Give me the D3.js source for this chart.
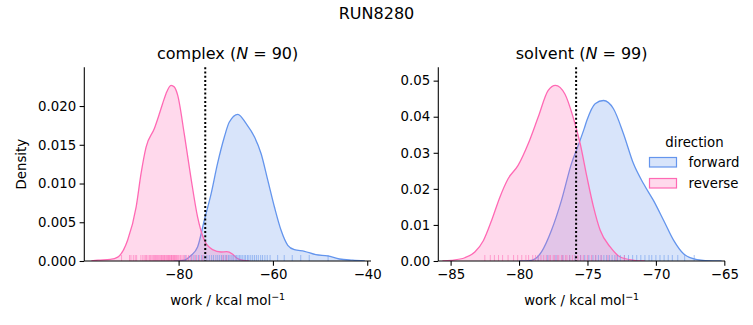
<!DOCTYPE html>
<html>
<head>
<meta charset="utf-8">
<script src="https://cdn.jsdelivr.net/npm/d3@7"></script>
<style>
  html, body { margin: 0; padding: 0; background: #fff; }
  svg { display: block; font-family: "DejaVu Sans", sans-serif; }
</style>
</head>
<body>
<svg id="chart" width="753" height="325"></svg>
<script>
// ---------------- DATA ----------------
const suptitle = "RUN8280";
const directions = ["forward", "reverse"];
const colors = { forward: "#6495ED", reverse: "#FF69B4" };

// complex panel: KDE curves
const complexForwardX = [-81, -78.8, -77.4, -75.98, -74.56, -73.1, -71.75, -70.3, -69.27, -67.43, -65.67, -63.9, -62.5, -61.08, -59.68, -58.27, -56.85, -55.45, -53.3, -50.9, -48.4, -45.9, -43.1, -40.5];
const complexForwardY = [0, 0.0001, 0.0007, 0.0018, 0.00525, 0.0087, 0.01256, 0.016, 0.0179, 0.01893, 0.01772, 0.016, 0.01385, 0.0104, 0.00697, 0.00396, 0.00203, 0.00146, 0.00125, 0.00081, 0.00065, 0.00026, 0.0001, 0];
const complexReverseX = [-98.5, -97.1, -94.5, -92.9, -90.8, -89.0, -87.96, -86.9, -85.14, -84.08, -83.4, -82.67, -81.6, -80.9, -80.2, -78.8, -77.4, -75.98, -74.56, -72.8, -71.0, -69.8, -68.6, -67.6, -66.5, -65.0];
const complexReverseY = [0, 0.0001, 0.0002, 0.0005, 0.0027, 0.0070, 0.0113, 0.0147, 0.0171, 0.019, 0.0203, 0.0216, 0.02267, 0.02245, 0.0214, 0.0164, 0.0108, 0.0057, 0.0027, 0.00146, 0.00116, 0.0012, 0.0009, 0.00035, 0.0001, 0];
const complexForwardRug = [-78.6, -77.2, -76.5, -75.8, -75.1, -74.6, -74.0, -73.5, -73.0, -72.6, -72.1, -71.7, -71.3, -70.9, -70.5, -70.1, -69.8, -69.4, -69.1, -68.7, -68.4, -68.0, -67.7, -67.4, -67.1, -66.8, -66.5, -66.1, -65.8, -65.4, -65.1, -64.7, -64.3, -63.9, -63.5, -63.1, -62.6, -62.2, -61.7, -61.2, -60.6, -59.0, -57.6, -55.9, -54.1, -52.3, -48.3];
const complexReverseRug = [-92.1, -90.4, -90.1, -89.6, -89.2, -88.9, -88.0, -87.6, -87.3, -87.0, -86.8, -86.5, -86.2, -86.0, -85.8, -85.5, -85.3, -85.1, -84.9, -84.7, -84.5, -84.3, -84.1, -83.9, -83.7, -83.6, -83.4, -83.2, -83.0, -82.9, -82.7, -82.5, -82.4, -82.2, -82.1, -81.9, -81.8, -81.6, -81.5, -81.4, -81.2, -81.1, -80.9, -80.8, -80.6, -80.5, -80.3, -80.1, -79.9, -79.6, -79.3, -79.0, -78.7, -78.3, -77.9, -77.4, -76.8, -76.2, -75.6, -74.9, -70.6, -69.8];

// solvent panel
const solventForwardX = [-80, -79.1, -78.36, -77.63, -76.9, -76.17, -75.68, -75.24, -75.04, -74.44, -73.83, -73.1, -72.37, -71.64, -70.9, -70.18, -69.44, -68.7, -67.98, -67.0, -65.8, -65.2];
const solventForwardY = [0, 0.0002, 0.0025, 0.0085, 0.0168, 0.027, 0.032, 0.0367, 0.039, 0.0436, 0.0445, 0.0422, 0.0353, 0.027, 0.0214, 0.0168, 0.0113, 0.0057, 0.002, 0.0004, 0, 0];
const solventReverseX = [-85.6, -84.94, -83.96, -83.23, -82.6, -82.0, -81.4, -80.8, -80.07, -79.33, -78.6, -77.87, -77.34, -76.65, -76.05, -75.53, -75.04, -74.56, -74.07, -73.34, -72.6, -71.6, -70.8];
const solventReverseY = [0, 0.0002, 0.0009, 0.0025, 0.0057, 0.0113, 0.0177, 0.0228, 0.0265, 0.0325, 0.0399, 0.0473, 0.0487, 0.0463, 0.0399, 0.0325, 0.0233, 0.015, 0.0085, 0.0039, 0.0011, 0.0002, 0];
const solventForwardRug = [-78.6, -77.9, -77.3, -76.8, -76.3, -75.9, -75.5, -75.2, -74.9, -74.6, -74.4, -74.2, -74.0, -73.8, -73.6, -73.4, -73.2, -73.0, -72.8, -72.6, -72.3, -72.0, -71.7, -71.4, -71.1, -70.8, -70.5, -70.3, -70.0, -69.7, -69.4, -69.1, -68.8, -68.4, -67.9, -67.2];
const solventReverseRug = [-82.5, -82.1, -81.8, -81.5, -81.2, -80.8, -80.4, -80.1, -79.8, -79.5, -79.3, -79.0, -78.8, -78.6, -78.4, -78.2, -78.0, -77.8, -77.7, -77.5, -77.4, -77.2, -77.1, -76.9, -76.8, -76.6, -76.5, -76.3, -76.1, -75.9, -75.7, -75.5, -75.3, -75.0, -74.7, -74.4, -74.0, -73.5, -72.9, -72.3];

const complexTicksX = [-80, -60, -40];
const complexTicksY = [0, 0.005, 0.010, 0.015, 0.020];
const solventTicksX = [-85, -80, -75, -70, -65];
const solventTicksY = [0, 0.01, 0.02, 0.03, 0.04, 0.05];
const complexMean = -74.35;
const solventMean = -75.83;

// ---------------- LAYOUT ----------------
const svg = d3.select("#chart");
const plotTop = 67.3, plotBottom = 261;

const panels = [
  { name: "complex", n: 90, left: 84.3, right: 371, xDomain: [-100, -39.2], yDomain: [0, 0.025],
    xTicks: complexTicksX, yTicks: complexTicksY, yFmt: d3.format(".3f"), mean: complexMean,
    series: {
      forward: { x: complexForwardX, y: complexForwardY, rug: complexForwardRug },
      reverse: { x: complexReverseX, y: complexReverseY, rug: complexReverseRug } },
    ylabel: true, legend: false },
  { name: "solvent", n: 99, left: 438.3, right: 725, xDomain: [-85.9, -64.95], yDomain: [0, 0.0537],
    xTicks: solventTicksX, yTicks: solventTicksY, yFmt: d3.format(".2f"), mean: solventMean,
    series: {
      forward: { x: solventForwardX, y: solventForwardY, rug: solventForwardRug },
      reverse: { x: solventReverseX, y: solventReverseY, rug: solventReverseRug } },
    ylabel: false, legend: true }
];

svg.append("text").attr("x", 376.5).attr("y", 18.5).attr("text-anchor", "middle")
  .attr("font-size", 16).attr("fill", "#000").text(suptitle);

panels.forEach(p => {
  const x = d3.scaleLinear().domain(p.xDomain).range([p.left, p.right]);
  const y = d3.scaleLinear().domain(p.yDomain).range([plotBottom, plotTop]);
  const g = svg.append("g");
  const clipId = "clip-" + p.name;
  svg.append("clipPath").attr("id", clipId).append("rect")
    .attr("x", p.left).attr("y", plotTop).attr("width", p.right - p.left).attr("height", plotBottom - plotTop);
  const plot = g.append("g").attr("clip-path", `url(#${clipId})`);

  directions.forEach(dir => {
    const s = p.series[dir];
    const pts = s.x.map((v, i) => [v, s.y[i]]);
    const area = d3.area().x(d => x(d[0])).y0(y(0)).y1(d => y(d[1])).curve(d3.curveMonotoneX);
    const line = d3.line().x(d => x(d[0])).y(d => y(d[1])).curve(d3.curveMonotoneX);
    plot.append("path").attr("d", area(pts)).attr("fill", colors[dir]).attr("fill-opacity", 0.25);
    plot.append("path").attr("d", line(pts)).attr("fill", "none").attr("stroke", colors[dir]).attr("stroke-width", 1.3);
  });
  directions.forEach(dir => {
    const s = p.series[dir];
    plot.selectAll(null).data(s.rug).enter().append("line")
      .attr("x1", d => x(d)).attr("x2", d => x(d))
      .attr("y1", plotBottom).attr("y2", plotBottom - 6)
      .attr("stroke", colors[dir]).attr("stroke-width", 1).attr("stroke-opacity", 0.55);
  });

  // mean line
  g.append("line").attr("x1", x(p.mean)).attr("x2", x(p.mean)).attr("y1", plotTop).attr("y2", plotBottom)
    .attr("stroke", "#000").attr("stroke-width", 2).attr("stroke-dasharray", "2,2.2");

  // axes
  const xAxis = d3.axisBottom(x).tickValues(p.xTicks).tickSize(4.7).tickPadding(3.5).tickFormat(d3.format("d"));
  const yAxis = d3.axisLeft(y).tickValues(p.yTicks).tickSize(4.7).tickPadding(3.5).tickFormat(p.yFmt);
  const gx = g.append("g").attr("transform", `translate(0,${plotBottom})`).call(xAxis);
  const gy = g.append("g").attr("transform", `translate(${p.left},0)`).call(yAxis);
  [gx, gy].forEach(a => {
    a.select(".domain").attr("stroke", "#000").attr("stroke-width", 1.07)
      .attr("d", a === gx ? `M${p.left},0H${p.right}` : `M0,${plotBottom}V${plotTop}`);
    a.selectAll(".tick line").attr("stroke", "#000").attr("stroke-width", 1.07);
    a.selectAll(".tick text").attr("font-size", 13.3).attr("fill", "#000")
      .attr("font-family", "DejaVu Sans");
  });
  gx.selectAll(".tick text").attr("dy", "0.75em");

  // title
  const cx = (p.left + p.right) / 2;
  const t = g.append("text").attr("x", cx).attr("y", 59).attr("text-anchor", "middle").attr("font-size", 16).attr("fill", "#000");
  t.append("tspan").text(p.name + " (");
  t.append("tspan").attr("font-style", "italic").text("N");
  t.append("tspan").text(" = " + p.n + ")");

  // x label
  const xl = g.append("text").attr("x", cx).attr("y", 305).attr("text-anchor", "middle").attr("font-size", 13.3).attr("fill", "#000");
  xl.append("tspan").text("work / kcal mol");
  xl.append("tspan").attr("font-size", 9.5).attr("dy", -5.5).text("\u22121");

  if (p.ylabel) {
    g.append("text").attr("transform", `translate(26,${(plotTop + plotBottom) / 2}) rotate(-90)`)
      .attr("text-anchor", "middle").attr("font-size", 13.3).attr("fill", "#000").text("Density");
  }

  if (p.legend) {
    const lg = svg.append("g");
    lg.append("text").attr("x", 694.5).attr("y", 146.5).attr("text-anchor", "middle")
      .attr("font-size", 13.3).attr("fill", "#000").text("direction");
    directions.forEach((dir, i) => {
      const yy = 157.5 + i * 21;
      lg.append("rect").attr("x", 649.5).attr("y", yy).attr("width", 27).attr("height", 9.5)
        .attr("fill", colors[dir]).attr("fill-opacity", 0.25).attr("stroke", colors[dir]).attr("stroke-width", 1.2);
      lg.append("text").attr("x", 688.5).attr("y", yy + 9.5).attr("font-size", 13.3).attr("fill", "#000").text(dir);
    });
  }
});
</script>
</body>
</html>
